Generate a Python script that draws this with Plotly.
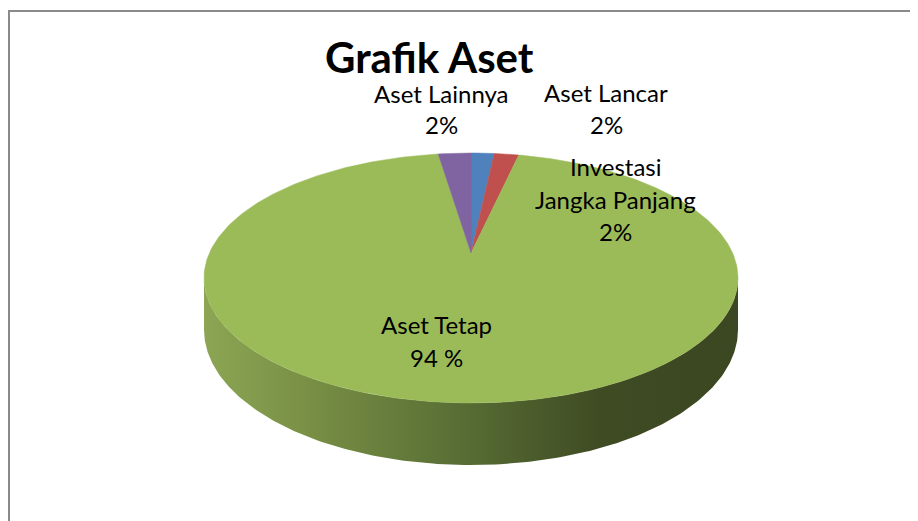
import numpy as np
import plotly.graph_objects as go

# ---- data ----
categories = ["Aset Lancar", "Investasi Jangka Panjang", "Aset Tetap", "Aset Lainnya"]
values = [1.7, 1.8, 94.1, 2.4]
label_lines = [["Aset Lancar", "2%"],
               ["Investasi", "Jangka Panjang", "2%"],
               ["Aset Tetap", "94 %"],
               ["Aset Lainnya", "2%"]]
colors = ["#4f81bd", "#c0504d", "#9bbb59", "#8064a2"]
title_text = "Grafik Aset"

# ---- 3D-pie projection (layout constants) ----
W, H = 918, 521
OFF = 8  # page body margin
cx, cy = 471, 253
A, B, K = 261.6, 120.0, 0.2
DEPTH = 49.6
FONT = "Lato"

def proj(theta, r=1.0):
    u = r * np.sin(theta)
    v = -r * np.cos(theta)
    den = 1 - K * v
    return cx + A * u / den, cy + B * v / den, den

fig = go.Figure()

# side wall (front half of the green slice)
t_left = np.pi * 2 - np.arccos(-K)
t_right = np.arccos(-K)
ts = np.linspace(t_right, t_left, 200)
xt, yt, dt = proj(ts)
xb, yb = xt[::-1], (yt + DEPTH / dt)[::-1]
side_x = np.concatenate([xt, xb, xt[:1]])
side_y = np.concatenate([yt, yb, yt[:1]])
fig.add_trace(go.Scatter(
    x=side_x, y=side_y, mode="lines", line=dict(width=0),
    fill="toself",
    fillgradient=dict(type="horizontal", start=203, stop=740,
                      colorscale=[[0, "#8ca654"], [0.18, "#7a9146"], [0.5, "#566b33"],
                                  [0.74, "#3f4b23"], [1, "#3b4721"]]),
    hoverinfo="skip", showlegend=False))

# top faces of slices
total = sum(values)
start = 0.0
for cat, val, col in zip(categories, values, colors):
    a0 = start / total * 2 * np.pi
    a1 = (start + val) / total * 2 * np.pi
    n = max(4, int(val * 4))
    th = np.linspace(a0, a1, n)
    ax_, ay_, _ = proj(th)
    px = np.concatenate([[cx], ax_, [cx]])
    py = np.concatenate([[cy], ay_, [cy]])
    fig.add_trace(go.Scatter(x=px, y=py, mode="lines", line=dict(width=0.5, color=col),
                             fill="toself", fillcolor=col, name=cat,
                             hoverinfo="skip", showlegend=False))
    start += val

# data labels (placement chosen like the original)
label_pos = {
    "Aset Lancar": (606, [92, 124]),
    "Investasi Jangka Panjang": (615, [166, 199, 231]),
    "Aset Tetap": (436, [324, 357]),
    "Aset Lainnya": (441, [93, 124]),
}
annotations = []
for cat, lines in zip(categories, label_lines):
    lx, lys = label_pos[cat]
    for txt, ly in zip(lines, lys):
        annotations.append(dict(x=lx, y=ly, xref="x", yref="y", text=txt, showarrow=False,
                                xanchor="center", yanchor="middle",
                                font=dict(family=FONT, size=24, color="#000000")))
annotations.append(dict(x=429, y=57, xref="x", yref="y", text="<b>" + title_text + "</b>",
                        showarrow=False, xanchor="center", yanchor="middle",
                        font=dict(family=FONT, size=42, color="#000000")))

fig.update_layout(
    width=W, height=H, margin=dict(l=0, r=0, t=0, b=0),
    paper_bgcolor="white", plot_bgcolor="white",
    xaxis=dict(range=[OFF, W + OFF], visible=False, fixedrange=True),
    yaxis=dict(range=[H + OFF, OFF], visible=False, fixedrange=True),
    annotations=annotations,
    shapes=[dict(type="rect", xref="x", yref="y", x0=9, y0=11, x1=940, y1=560,
                 line=dict(color="#8a8a8a", width=2))],
    showlegend=False,
)
fig.write_html("out.html")
